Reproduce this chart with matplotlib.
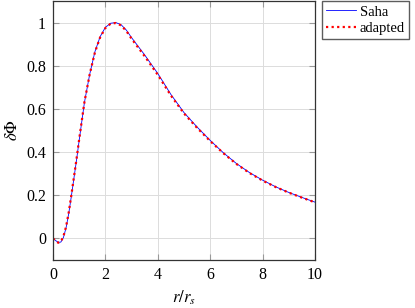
import matplotlib.pyplot as plt

plt.rcParams['font.family'] = 'serif'
plt.rcParams['font.serif'] = ['Liberation Serif', 'DejaVu Serif']
plt.rcParams['mathtext.fontset'] = 'stix'

# values
r = [0, 0.1, 0.2, 0.3, 0.4, 0.5, 0.6, 0.7, 0.8, 0.9, 1.0, 1.2, 1.4, 1.6, 1.8,
     2.0, 2.2, 2.4, 2.6, 2.8, 3.0, 3.5, 4.0, 4.5, 5.0, 5.5, 6.0, 6.5, 7.0,
     7.5, 8.0, 8.5, 9.0, 9.5, 10.0]
saha = [0.0, -0.01, -0.018, -0.017, 0.005, 0.05, 0.115, 0.195, 0.28, 0.365,
        0.455, 0.63, 0.76, 0.865, 0.935, 0.978, 0.997, 1.0, 0.99, 0.965,
        0.93, 0.85, 0.764, 0.667, 0.583, 0.516, 0.454, 0.397, 0.347,
        0.305, 0.27, 0.239, 0.213, 0.19, 0.168]
adapted = [0.0, -0.012, -0.02, -0.015, 0.01, 0.055, 0.12, 0.2, 0.285, 0.37,
           0.46, 0.632, 0.76, 0.862, 0.932, 0.975, 0.995, 0.998, 0.987, 0.961,
           0.925, 0.844, 0.758, 0.662, 0.579, 0.512, 0.451, 0.395, 0.345,
           0.303, 0.268, 0.238, 0.212, 0.189, 0.167]

xticks = [0, 2, 4, 6, 8, 10]
yticks = [0, 0.2, 0.4, 0.6, 0.8, 1.0]
ytick_labels = ['0', '0.2', '0.4', '0.6', '0.8', '1']

fig = plt.figure(figsize=(4.15, 3.08), dpi=100)
ax = fig.add_axes([53 / 415, 48 / 308, 262 / 415, 259 / 308])

ax.plot(r, saha, color='blue', lw=0.6, label='Saha')
ax.plot(r, adapted, color='red', lw=1.6, linestyle=(0, (1, 1.5)), label='adapted')

ax.set_xlim(0, 10)
ax.set_ylim(-0.1, 1.1)
ax.set_xticks(xticks)
ax.set_yticks(yticks)
ax.set_yticklabels(ytick_labels)
ax.grid(True, color='#dcdcdc', lw=0.7)
ax.set_axisbelow(True)
ax.tick_params(direction='in', top=True, right=True, length=4, color='#999999',
               labelsize=11.5, pad=5)
for s in ax.spines.values():
    s.set_color('#333333')
    s.set_linewidth(0.9)

ax.set_xlabel('$r/r_s$', fontsize=12, labelpad=4)
ax.set_ylabel('$\\delta\\Phi$', fontsize=12, labelpad=4)

fig.legend(loc='upper left', bbox_to_anchor=(322 / 415, 1 - 1 / 308),
           frameon=True, fancybox=False, edgecolor='#333333', fontsize=10.5,
           handlelength=2.0, handletextpad=0.3, borderpad=0.3, labelspacing=0.2,
           borderaxespad=0)

plt.savefig('out.png', dpi=100)
